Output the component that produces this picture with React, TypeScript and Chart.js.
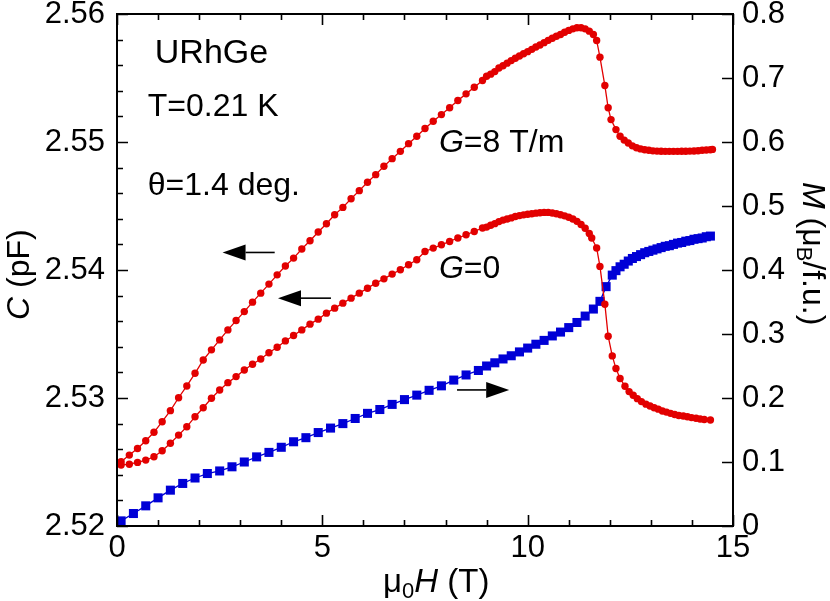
import React, { useEffect, useRef } from 'react';
import { Chart, registerables } from 'chart.js';

Chart.register(...registerables);

const FAM = "'Liberation Sans', Arial, Helvetica, sans-serif";
const RED = 'rgb(226,0,0)';
const BLUE = 'rgb(0,0,214)';

// G = 8 T/m capacitance curve (left axis, pF)
const g8H = [0.1, 0.3, 0.5, 0.7, 0.9, 1.1, 1.3, 1.5, 1.7, 1.9, 2.1, 2.3, 2.5, 2.7, 2.9, 3.1, 3.3, 3.5, 3.7, 3.9,
  4.1, 4.3, 4.5, 4.7, 4.9, 5.1, 5.3, 5.5, 5.7, 5.9, 6.1, 6.3, 6.5, 6.7, 6.9, 7.1, 7.3, 7.5, 7.7, 7.9,
  8.1, 8.3, 8.5, 8.7, 8.9, 9.0, 9.1, 9.2, 9.3, 9.4, 9.5, 9.6, 9.7, 9.8, 9.9, 10.0, 10.1, 10.2, 10.3, 10.4,
  10.5, 10.6, 10.7, 10.8, 10.9, 11.0, 11.1, 11.2, 11.3, 11.4, 11.5, 11.6, 11.68, 11.76, 11.88, 11.96, 12.03, 12.15, 12.25, 12.35,
  12.45, 12.55, 12.65, 12.75, 12.85, 12.95, 13.05, 13.15, 13.25, 13.35, 13.45, 13.55, 13.65, 13.75, 13.85, 13.95, 14.05, 14.15, 14.25, 14.35,
  14.45, 14.5];
const g8C = [2.52502, 2.52554, 2.52606, 2.52666, 2.52732, 2.52815, 2.52901, 2.53002, 2.53094, 2.53193, 2.53297, 2.53376, 2.53454, 2.53532, 2.53605, 2.53675, 2.53749, 2.53819, 2.5389, 2.53962,
  2.54031, 2.54093, 2.54164, 2.54229, 2.54297, 2.54361, 2.54432, 2.54489, 2.54557, 2.5462, 2.54685, 2.54745, 2.5481, 2.5487, 2.54927, 2.54987, 2.55045, 2.55105, 2.55162, 2.55214,
  2.55267, 2.55324, 2.55376, 2.55428, 2.5548, 2.55514, 2.5553, 2.5555, 2.55578, 2.55596, 2.55616, 2.55636, 2.55654, 2.55672, 2.5569, 2.55706, 2.55724, 2.55742, 2.55758, 2.55776,
  2.55794, 2.5581, 2.55826, 2.5584, 2.55858, 2.55872, 2.55884, 2.55892, 2.55893, 2.55884, 2.55866, 2.5584, 2.55793, 2.55663, 2.55441, 2.55267, 2.55175, 2.55097, 2.55045, 2.55015,
  2.54992, 2.5497, 2.54955, 2.54946, 2.5494, 2.54935, 2.54931, 2.54929, 2.54928, 2.54927, 2.54927, 2.54927, 2.54927, 2.54928, 2.54928, 2.54929, 2.5493, 2.54932, 2.54935, 2.54937,
  2.5494, 2.54942];

// G = 0 capacitance curve (left axis, pF)
const g0H = [0.1, 0.3, 0.5, 0.7, 0.9, 1.1, 1.3, 1.5, 1.7, 1.9, 2.1, 2.3, 2.5, 2.7, 2.9, 3.1, 3.3, 3.5, 3.7, 3.9,
  4.1, 4.3, 4.5, 4.7, 4.9, 5.1, 5.3, 5.5, 5.7, 5.9, 6.1, 6.3, 6.5, 6.7, 6.9, 7.1, 7.3, 7.5, 7.7, 7.9,
  8.1, 8.3, 8.5, 8.7, 8.9, 9.0, 9.1, 9.2, 9.3, 9.4, 9.5, 9.6, 9.7, 9.8, 9.9, 10.0, 10.1, 10.2, 10.3, 10.4,
  10.5, 10.6, 10.7, 10.8, 10.9, 11.0, 11.1, 11.2, 11.3, 11.4, 11.5, 11.56, 11.68, 11.76, 11.88, 11.96, 12.06, 12.15, 12.25, 12.37,
  12.47, 12.57, 12.67, 12.77, 12.88, 12.98, 13.08, 13.18, 13.28, 13.38, 13.48, 13.58, 13.68, 13.79, 13.89, 13.99, 14.1, 14.2, 14.3, 14.45];
const g0C = [2.52476, 2.52483, 2.52497, 2.52515, 2.52541, 2.52588, 2.52646, 2.5271, 2.52775, 2.52854, 2.52924, 2.52998, 2.53063, 2.5312, 2.53167, 2.53219, 2.53264, 2.53305, 2.53354, 2.53397,
  2.53446, 2.53488, 2.53532, 2.53577, 2.53616, 2.53663, 2.53702, 2.53741, 2.5378, 2.53819, 2.53858, 2.53897, 2.53931, 2.53968, 2.54002, 2.54041, 2.5408, 2.54145, 2.54171, 2.54197,
  2.54223, 2.5425, 2.54275, 2.54301, 2.54328, 2.54335, 2.5435, 2.54362, 2.54378, 2.5439, 2.54398, 2.54407, 2.54418, 2.54425, 2.54431, 2.54436, 2.5444, 2.54444, 2.54447, 2.5445,
  2.5445, 2.54445, 2.5444, 2.54432, 2.54423, 2.54412, 2.54398, 2.5438, 2.54355, 2.54326, 2.54285, 2.5425, 2.54172, 2.54028, 2.53733, 2.53483, 2.53329, 2.5323, 2.53152, 2.53092,
  2.5305, 2.53022, 2.52995, 2.52972, 2.52952, 2.52937, 2.52924, 2.52913, 2.52898, 2.5289, 2.5288, 2.52871, 2.52863, 2.52859, 2.52853, 2.52847, 2.52842, 2.52836, 2.52832, 2.52828];

// Magnetization (right axis, muB/f.u.)
const mH = [0.1, 0.4, 0.7, 1.0, 1.3, 1.6, 1.9, 2.2, 2.5, 2.8, 3.1, 3.4, 3.7, 4.0, 4.3, 4.6, 4.9, 5.2, 5.5, 5.8,
  6.1, 6.4, 6.7, 7.0, 7.3, 7.6, 7.9, 8.2, 8.5, 8.8, 9.0, 9.2, 9.4, 9.6, 9.8, 10.0, 10.2, 10.4, 10.6, 10.8,
  11.0, 11.2, 11.4, 11.6, 11.76, 11.91, 12.06, 12.15, 12.25, 12.35, 12.45, 12.55, 12.65, 12.75, 12.85, 12.95, 13.05, 13.15, 13.25, 13.35,
  13.45, 13.55, 13.65, 13.75, 13.85, 13.95, 14.05, 14.15, 14.25, 14.35, 14.45];
const mM = [0.008, 0.0195, 0.0315, 0.044, 0.056, 0.0665, 0.075, 0.082, 0.086, 0.0925, 0.1, 0.108, 0.115, 0.123, 0.1316, 0.138, 0.146, 0.153, 0.16, 0.168,
  0.176, 0.182, 0.19, 0.1975, 0.2045, 0.212, 0.219, 0.228, 0.236, 0.243, 0.25, 0.255, 0.261, 0.266, 0.272, 0.278, 0.284, 0.29, 0.297, 0.303,
  0.31, 0.318, 0.328, 0.339, 0.351, 0.374, 0.392, 0.399, 0.405, 0.409, 0.414, 0.418, 0.421, 0.424, 0.427, 0.429, 0.431, 0.433, 0.435, 0.437,
  0.438, 0.44, 0.442, 0.443, 0.445, 0.446, 0.448, 0.449, 0.45, 0.452, 0.453];

const xTicks = [0, 5, 10, 15];
const cTicks = [2.52, 2.53, 2.54, 2.55, 2.56];
const mTicks = [0, 0.1, 0.2, 0.3, 0.4, 0.5, 0.6, 0.7, 0.8];

type Part = { t: string; italic?: boolean; sub?: boolean };

// Text annotations placed in data coordinates (H in T, C in pF)
const noteText: Part[][] = [
  [{ t: 'URhGe' }],
  [{ t: 'T=0.21 K' }],
  [{ t: '\u03b8=1.4 deg.' }],
  [{ t: 'G', italic: true }, { t: '=8 T/m' }],
  [{ t: 'G', italic: true }, { t: '=0' }],
];
const noteH = [0.92, 0.75, 0.75, 7.84, 7.84];
const noteC = [2.55619, 2.55201, 2.54588, 2.54919, 2.53937];
const noteSize = [34, 32, 32, 32, 32];

// Arrows: tail H, tip H, level C
const arrowFrom = [3.84, 5.21, 8.28];
const arrowTo = [2.57, 3.92, 9.55];
const arrowC = [2.54137, 2.5378, 2.53063];

function drawRich(ctx: CanvasRenderingContext2D, parts: Part[], size: number, x: number, y: number) {
  let cx = x;
  for (const p of parts) {
    const s = p.sub ? Math.round(size * 0.68) : size;
    ctx.font = `${p.italic ? 'italic ' : ''}${s}px ${FAM}`;
    ctx.fillText(p.t, cx, p.sub ? y + size * 0.19 : y);
    cx += ctx.measureText(p.t).width;
  }
}

const decorPlugin = {
  id: 'decor',
  afterDraw(chart: any) {
    const ctx: CanvasRenderingContext2D = chart.ctx;
    const { left, right, top, bottom } = chart.chartArea;
    const xs = chart.scales.x;
    const ys = chart.scales.y;
    const y2 = chart.scales.y2;
    ctx.save();
    ctx.strokeStyle = '#000';
    ctx.fillStyle = '#000';
    ctx.lineWidth = 2;
    ctx.strokeRect(left, top, right - left, bottom - top);
    ctx.lineWidth = 1.6;
    ctx.beginPath();
    // x ticks bottom & top (every 1 T, long every 5 T)
    for (let i = 0; i <= 15; i++) {
      const px = Math.round(xs.getPixelForValue(i)) + 0.5;
      const len = i % 5 === 0 ? 11 : 6;
      ctx.moveTo(px, bottom); ctx.lineTo(px, bottom - len);
      ctx.moveTo(px, top); ctx.lineTo(px, top + len);
    }
    // left ticks (every 0.002, long every 0.01)
    for (let i = 0; i <= 20; i++) {
      const py = Math.round(ys.getPixelForValue(2.52 + i * 0.002)) + 0.5;
      const len = i % 5 === 0 ? 11 : 6;
      ctx.moveTo(left, py); ctx.lineTo(left + len, py);
    }
    // right ticks (every 0.1)
    for (const v of mTicks) {
      const py = Math.round(y2.getPixelForValue(v)) + 0.5;
      ctx.moveTo(right, py); ctx.lineTo(right - 11, py);
    }
    ctx.stroke();

    // arrows
    ctx.lineWidth = 1.6;
    for (let i = 0; i < arrowFrom.length; i++) {
      const x1 = xs.getPixelForValue(arrowFrom[i]);
      const x2 = xs.getPixelForValue(arrowTo[i]);
      const py = ys.getPixelForValue(arrowC[i]);
      const dir = x2 > x1 ? 1 : -1;
      const base = x2 - dir * 23;
      ctx.beginPath();
      ctx.moveTo(x1, py); ctx.lineTo(base, py);
      ctx.stroke();
      ctx.beginPath();
      ctx.moveTo(x2, py);
      ctx.lineTo(base, py - 8);
      ctx.lineTo(base, py + 8);
      ctx.closePath();
      ctx.fill();
    }

    // annotations
    ctx.textAlign = 'left';
    ctx.textBaseline = 'alphabetic';
    for (let i = 0; i < noteText.length; i++) {
      drawRich(ctx, noteText[i], noteSize[i], xs.getPixelForValue(noteH[i]), ys.getPixelForValue(noteC[i]));
    }

    // axis titles
    drawRich(ctx, [{ t: '\u03bc' }, { t: '0', sub: true }, { t: 'H', italic: true }, { t: ' (T)' }], 33, 383, 592);
    ctx.save();
    ctx.translate(29, 320);
    ctx.rotate(-Math.PI / 2);
    drawRich(ctx, [{ t: 'C', italic: true }, { t: ' (pF)' }], 32, 0, 0);
    ctx.restore();
    ctx.save();
    ctx.translate(803, 182);
    ctx.rotate(Math.PI / 2);
    drawRich(ctx, [{ t: 'M', italic: true }, { t: ' (\u03bc' }, { t: 'B', sub: true }, { t: '/f.u.)' }], 32, 0, 0);
    ctx.restore();
    ctx.restore();
  },
};

export default function App() {
  const ref = useRef<HTMLCanvasElement | null>(null);
  useEffect(() => {
    if (!ref.current) return;
    const tickFont = { family: FAM, size: 31 };
    const chart = new Chart(ref.current, {
      type: 'scatter',
      data: {
        datasets: [
          {
            data: g8H.map((h, i) => ({ x: h, y: g8C[i] })),
            yAxisID: 'y', showLine: true, borderColor: RED, backgroundColor: RED,
            borderWidth: 1.3, pointRadius: 3.7, pointBorderWidth: 0, pointStyle: 'circle',
          },
          {
            data: g0H.map((h, i) => ({ x: h, y: g0C[i] })),
            yAxisID: 'y', showLine: true, borderColor: RED, backgroundColor: RED,
            borderWidth: 1.3, pointRadius: 3.7, pointBorderWidth: 0, pointStyle: 'circle',
          },
          {
            data: mH.map((h, i) => ({ x: h, y: mM[i] })),
            yAxisID: 'y2', showLine: true, borderColor: BLUE, backgroundColor: BLUE,
            borderWidth: 1.3, pointRadius: 6.4, pointBorderWidth: 0, pointStyle: 'rect',
          },
        ],
      } as any,
      options: {
        animation: false,
        responsive: false,
        devicePixelRatio: 1,
        layout: { padding: { top: 14, left: 0, right: 0, bottom: 0 } },
        plugins: { legend: { display: false }, tooltip: { enabled: false } },
        scales: {
          x: {
            type: 'linear', position: 'bottom', min: 0, max: 15,
            grid: { display: false, drawTicks: false }, border: { display: false },
            ticks: { font: tickFont, color: '#000', padding: 4, maxRotation: 0, autoSkip: false },
            afterBuildTicks: (s: any) => { s.ticks = xTicks.map((v) => ({ value: v })); },
            afterFit: (s: any) => { s.height = 75; s.paddingLeft = 0; s.paddingRight = 0; },
          },
          y: {
            type: 'linear', position: 'left', min: 2.52, max: 2.56,
            grid: { display: false, drawTicks: false }, border: { display: false },
            ticks: { font: tickFont, color: '#000', padding: 12, callback: (v: any) => Number(v).toFixed(2) },
            afterBuildTicks: (s: any) => { s.ticks = cTicks.map((v) => ({ value: v })); },
            afterFit: (s: any) => { s.width = 117; s.paddingTop = 0; s.paddingBottom = 0; },
          },
          y2: {
            type: 'linear', position: 'right', min: 0, max: 0.8,
            grid: { display: false, drawTicks: false }, border: { display: false },
            ticks: { font: tickFont, color: '#000', padding: 9, callback: (v: any) => (Number(v) === 0 ? '0' : Number(v).toFixed(1)) },
            afterBuildTicks: (s: any) => { s.ticks = mTicks.map((v) => ({ value: v })); },
            afterFit: (s: any) => { s.width = 97; s.paddingTop = 0; s.paddingBottom = 0; },
          },
        },
      } as any,
      plugins: [decorPlugin],
    });
    return () => chart.destroy();
  }, []);
  return (
    <div style={{ position: 'absolute', left: 0, top: 0, width: 830, height: 601, background: '#fff' }}>
      <canvas ref={ref} width={830} height={601} style={{ width: 830, height: 601, display: 'block' }} />
    </div>
  );
}
